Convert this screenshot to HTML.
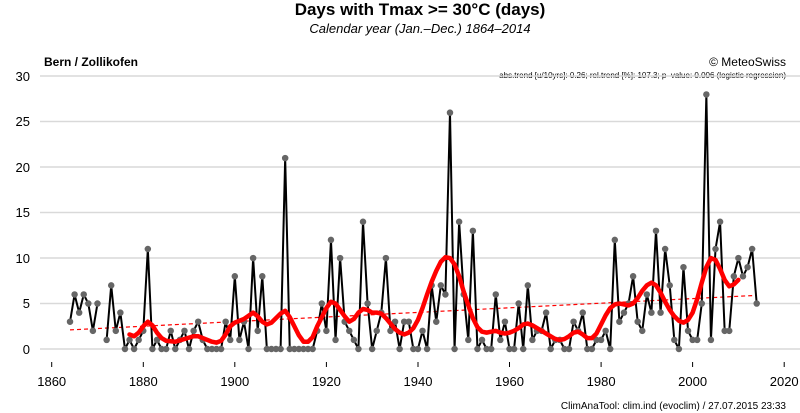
<!DOCTYPE html>
<html><head><meta charset="utf-8"><style>
html,body{margin:0;padding:0;background:#fff;}
svg{display:block;font-family:"Liberation Sans",sans-serif;}
</style></head><body>
<svg width="800" height="413" viewBox="0 0 800 413" xmlns="http://www.w3.org/2000/svg">
<text x="420" y="15" text-anchor="middle" font-size="17" font-weight="bold">Days with Tmax &gt;= 30°C (days)</text>
<text x="420" y="33" text-anchor="middle" font-size="13" font-style="italic">Calendar year (Jan.–Dec.) 1864–2014</text>
<text x="44" y="66" font-size="12" font-weight="bold">Bern / Zollikofen</text>
<text x="786" y="66" text-anchor="end" font-size="12">© MeteoSwiss</text>
<text x="786" y="78" text-anchor="end" font-size="8">abs.trend [u/10yrs]:  0.26; rel.trend [%]: 107.3; p–value: 0.006 (logistic regression)</text>
<g stroke="#d9d9d9" stroke-width="1.5">
<line x1="40" x2="800" y1="349" y2="349"/><line x1="40" x2="800" y1="303.5" y2="303.5"/><line x1="40" x2="800" y1="258" y2="258"/><line x1="40" x2="800" y1="212.5" y2="212.5"/><line x1="40" x2="800" y1="167" y2="167"/><line x1="40" x2="800" y1="121.5" y2="121.5"/><line x1="40" x2="800" y1="76" y2="76"/>
</g>
<g font-size="13" text-anchor="end" fill="#000">
<text x="30" y="354">0</text><text x="30" y="308">5</text><text x="30" y="263">10</text><text x="30" y="217">15</text><text x="30" y="172">20</text><text x="30" y="126">25</text><text x="30" y="81">30</text>
</g>
<g stroke="#000" stroke-width="1">
<line x1="51.7" x2="51.7" y1="362" y2="367"/><line x1="143.3" x2="143.3" y1="362" y2="367"/><line x1="234.8" x2="234.8" y1="362" y2="367"/><line x1="326.4" x2="326.4" y1="362" y2="367"/><line x1="418" x2="418" y1="362" y2="367"/><line x1="509.5" x2="509.5" y1="362" y2="367"/><line x1="601.1" x2="601.1" y1="362" y2="367"/><line x1="692.6" x2="692.6" y1="362" y2="367"/><line x1="784.2" x2="784.2" y1="362" y2="367"/>
</g>
<g font-size="13" text-anchor="middle">
<text x="51.7" y="386">1860</text><text x="143.3" y="386">1880</text><text x="234.8" y="386">1900</text><text x="326.4" y="386">1920</text><text x="418" y="386">1940</text><text x="509.5" y="386">1960</text><text x="601.1" y="386">1980</text><text x="692.6" y="386">2000</text><text x="784.2" y="386">2020</text>
</g>
<text x="786" y="409" text-anchor="end" font-size="10">ClimAnaTool: clim.ind (evoclim) / 27.07.2015 23:33</text>
<g transform="translate(51.7,349) scale(4.578,-9.09)" fill="none">
<line x1="4" y1="2.1" x2="154" y2="5.9" stroke="#ff0000" stroke-width="1.2" stroke-dasharray="4,3" vector-effect="non-scaling-stroke"/>
<polyline vector-effect="non-scaling-stroke" stroke="#000" stroke-width="2" stroke-linejoin="round" points="4,3 5,6 6,4 7,6 8,5 9,2 10,5"/>
<polyline vector-effect="non-scaling-stroke" stroke="#000" stroke-width="2" stroke-linejoin="round" points="12,1 13,7 14,2 15,4 16,0 17,1 18,0 19,1 20,2 21,11 22,0 23,1 24,0 25,0 26,2 27,0 28,1 29,2 30,0 31,2 32,3 33,1 34,0 35,0 36,0 37,0 38,3 39,1 40,8 41,1 42,3 43,0 44,10 45,2 46,8 47,0 48,0 49,0 50,0 51,21 52,0 53,0 54,0 55,0 56,0 57,0 58,2 59,5 60,2 61,12 62,1 63,10 64,3 65,2 66,1 67,0 68,14 69,5 70,0 71,2 72,4 73,10 74,2 75,3 76,0 77,3 78,3 79,0 80,0 81,2 82,0 83,7 84,3 85,7 86,6 87,26 88,0 89,14 90,6 91,1 92,13 93,0 94,1 95,0 96,0 97,6 98,1 99,3 100,0 101,0 102,5 103,0 104,7 105,1 106,2 107,2 108,4 109,0 110,1 111,1 112,0 113,0 114,3 115,2 116,4 117,0 118,0 119,1 120,1 121,2 122,0 123,12 124,3 125,4 126,5 127,8 128,3 129,2 130,6 131,4 132,13 133,4 134,11 135,7 136,1 137,0 138,9 139,2 140,1 141,1 142,5 143,28 144,1 145,11 146,14 147,2 148,2 149,8 150,10 151,8 152,9 153,11 154,5"/>
<path vector-effect="non-scaling-stroke" stroke="#666" stroke-width="6.5" stroke-linecap="round" d="M4 3h0M5 6h0M6 4h0M7 6h0M8 5h0M9 2h0M10 5h0M12 1h0M13 7h0M14 2h0M15 4h0M16 0h0M17 1h0M18 0h0M19 1h0M20 2h0M21 11h0M22 0h0M23 1h0M24 0h0M25 0h0M26 2h0M27 0h0M28 1h0M29 2h0M30 0h0M31 2h0M32 3h0M33 1h0M34 0h0M35 0h0M36 0h0M37 0h0M38 3h0M39 1h0M40 8h0M41 1h0M42 3h0M43 0h0M44 10h0M45 2h0M46 8h0M47 0h0M48 0h0M49 0h0M50 0h0M51 21h0M52 0h0M53 0h0M54 0h0M55 0h0M56 0h0M57 0h0M58 2h0M59 5h0M60 2h0M61 12h0M62 1h0M63 10h0M64 3h0M65 2h0M66 1h0M67 0h0M68 14h0M69 5h0M70 0h0M71 2h0M72 4h0M73 10h0M74 2h0M75 3h0M76 0h0M77 3h0M78 3h0M79 0h0M80 0h0M81 2h0M82 0h0M83 7h0M84 3h0M85 7h0M86 6h0M87 26h0M88 0h0M89 14h0M90 6h0M91 1h0M92 13h0M93 0h0M94 1h0M95 0h0M96 0h0M97 6h0M98 1h0M99 3h0M100 0h0M101 0h0M102 5h0M103 0h0M104 7h0M105 1h0M106 2h0M107 2h0M108 4h0M109 0h0M110 1h0M111 1h0M112 0h0M113 0h0M114 3h0M115 2h0M116 4h0M117 0h0M118 0h0M119 1h0M120 1h0M121 2h0M122 0h0M123 12h0M124 3h0M125 4h0M126 5h0M127 8h0M128 3h0M129 2h0M130 6h0M131 4h0M132 13h0M133 4h0M134 11h0M135 7h0M136 1h0M137 0h0M138 9h0M139 2h0M140 1h0M141 1h0M142 5h0M143 28h0M144 1h0M145 11h0M146 14h0M147 2h0M148 2h0M149 8h0M150 10h0M151 8h0M152 9h0M153 11h0M154 5h0"/>
<polyline vector-effect="non-scaling-stroke" stroke="#ff0000" stroke-width="4.5" stroke-linejoin="round" stroke-linecap="round" points="17,1.6 18,1.4 19,1.8 20,2.5 21,3.0 22,2.6 23,1.8 24,1.2 25,0.9 27,0.8 29,1.1 31,1.4 32,1.4 33,1.2 35,0.8 36,0.7 37,0.9 38,1.6 39,2.5 40,2.9 42,3.3 44,4.0 45,3.6 46,3.0 47,2.7 48,2.9 50,3.9 51,4.2 52,3.5 53,2.5 54,1.5 55,0.8 56,0.8 57,1.3 58,2.5 60,4.5 61,5.2 62,5.0 63,4.3 64,3.6 65,3.0 66,3.3 67,4.0 68,4.4 69,4.3 70,4.0 71,4.0 72,3.9 73,3.4 74,2.8 75,2.2 76,1.8 77,1.6 78,1.8 79,2.3 80,3.2 81,4.5 82,6.0 83,7.4 84,8.6 85,9.6 86,10.1 87,10.0 88,9.3 89,8.0 90,6.3 91,4.8 92,3.4 93,2.4 94,1.9 95,1.8 96,1.9 97,2.0 98,1.8 99,1.7 100,1.8 101,2.0 102,2.3 103,2.7 104,2.8 105,2.6 106,2.3 107,2.0 108,1.7 109,1.4 110,1.1 111,1.0 112,1.1 113,1.4 114,1.8 115,1.9 116,1.6 117,1.2 118,1.2 119,1.7 120,2.7 121,3.7 122,4.5 123,4.9 124,5.0 125,4.9 126,4.8 127,5.0 128,5.6 129,6.4 130,7.0 131,7.3 132,7.0 133,6.2 134,5.2 135,4.3 136,3.6 137,3.1 138,2.9 139,3.2 140,4.0 141,5.5 142,7.3 143,9.0 144,10.0 145,9.8 146,8.8 147,7.6 148,6.9 149,7.1 150,7.6"/>
</g>
</svg>
</body></html>
